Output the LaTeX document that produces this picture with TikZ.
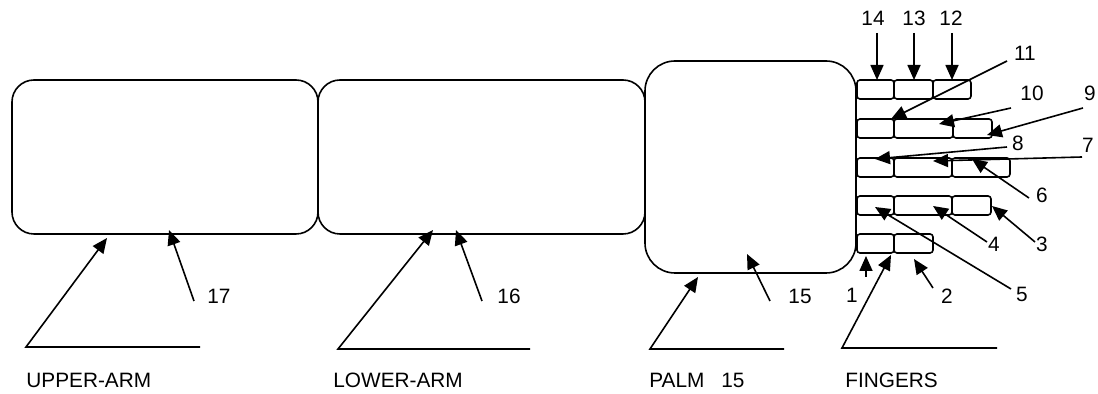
\documentclass[tikz,border=0pt]{standalone}
\usepackage{fontspec}
\setmainfont{Liberation Sans}
\usetikzlibrary{arrows.meta}
\begin{document}
\begin{tikzpicture}[x=0.5pt,y=-0.5pt,
  seg/.style={draw,line width=0.8pt,inner sep=0,outer sep=0},
  fing/.style={seg,rounded corners=1.5pt,minimum height=9.5pt},
  lab/.style={inner sep=0,font=\fontsize{10.4}{12}\selectfont},
  ptr/.style={line width=0.8pt,-{Triangle[length=7.5pt,width=6.5pt]}},
  lead/.style={line width=0.8pt}]
\useasboundingbox (0,0) rectangle (1098,394);
% arm segments
\node[seg,rounded corners=11pt,minimum width=153pt,minimum height=77pt] (upper) at (165,157) {};
\node[seg,rounded corners=11pt,minimum width=163.5pt,minimum height=77pt] (lower) at (481.5,157) {};
\node[seg,rounded corners=15pt,minimum width=105.5pt,minimum height=106pt] (palm) at (750.5,167) {};
% fingers
\node[fing,minimum width=18.5pt] (f11) at (875.5,89.5) {};
\node[fing,minimum width=19.5pt] (f12) at (913.5,89.5) {};
\node[fing,minimum width=19pt] (f13) at (952,89.5) {};
\node[fing,minimum width=18.5pt] (f21) at (875.5,128.5) {};
\node[fing,minimum width=29.5pt] (f22) at (923.5,128.5) {};
\node[fing,minimum width=19.5pt] (f23) at (972.5,128.5) {};
\node[fing,minimum width=18.5pt] (f31) at (875.5,167.5) {};
\node[fing,minimum width=29pt] (f32) at (923,167.5) {};
\node[fing,minimum width=29pt] (f33) at (981,167.5) {};
\node[fing,minimum width=18.5pt] (f41) at (875.5,205.5) {};
\node[fing,minimum width=29pt] (f42) at (923,205.5) {};
\node[fing,minimum width=19.5pt] (f43) at (971.5,205.5) {};
\node[fing,minimum width=18.5pt] (f51) at (875.5,243.5) {};
\node[fing,minimum width=19.5pt] (f52) at (913.5,243.5) {};
% number labels
\node[lab] (n17) at (219,296) {17};
\node[lab] (n16) at (509,296) {16};
\node[lab] (n15) at (800,296) {15};
\node[lab] (n1) at (852,295) {1};
\node[lab] (n2) at (947,296) {2};
\node[lab] (n3) at (1042,244) {3};
\node[lab] (n4) at (994,244) {4};
\node[lab] (n5) at (1022,294) {5};
\node[lab] (n6) at (1042,195) {6};
\node[lab] (n7) at (1088,145) {7};
\node[lab] (n8) at (1018,143) {8};
\node[lab] (n9) at (1090,93) {9};
\node[lab] (n10) at (1032,93) {10};
\node[lab] (n11) at (1025,53) {11};
\node[lab] (n14) at (873,18) {14};
\node[lab] (n13) at (914,18) {13};
\node[lab] (n12) at (951,18) {12};
% group labels
\node[lab,anchor=west] (tua) at (26,380) {UPPER-ARM};
\node[lab,anchor=west] (tla) at (333,380) {LOWER-ARM};
\node[lab,anchor=west] (tpa) at (649,380) {PALM\hspace{8.4pt}15};
\node[lab,anchor=west] (tfi) at (845,380) {FINGERS};
% arrow tails and tips
\coordinate (s17) at (194,301); \coordinate (t17) at (169,230);
\coordinate (s16) at (482,301); \coordinate (t16) at (456,230);
\coordinate (s15) at (770,301); \coordinate (t15) at (747,254);
\coordinate (s1) at (866,277); \coordinate (t1) at (866,256);
\coordinate (s2) at (933,288); \coordinate (t2) at (914,259);
\coordinate (s3) at (1035,242); \coordinate (t3) at (992,206);
\coordinate (s4) at (987,242); \coordinate (t4) at (933,206);
\coordinate (s5) at (1011,289); \coordinate (t5) at (875,207);
\coordinate (s6) at (1029,198); \coordinate (t6) at (972,159);
\coordinate (s7) at (1082,157); \coordinate (t7) at (933,161);
\coordinate (s8) at (1007,147); \coordinate (t8) at (875,159);
\coordinate (s9) at (1083,108); \coordinate (t9) at (987,135);
\coordinate (s10) at (1011,108); \coordinate (t10) at (939,124);
\coordinate (s11) at (1007,61); \coordinate (t11) at (891,119);
\coordinate (s14) at (877,33); \coordinate (t14) at (877,80);
\coordinate (s13) at (914,33); \coordinate (t13) at (914,80);
\coordinate (s12) at (952,33); \coordinate (t12) at (952,80);
\foreach \i in {17,16,15,1,2,3,4,5,6,7,8,9,10,11,14,13,12}
  \draw[ptr] (s\i) -- (t\i);
% group leaders
\coordinate (ua1) at (200,347); \coordinate (ua2) at (26,347); \coordinate (ua3) at (107,238);
\coordinate (la1) at (530,349); \coordinate (la2) at (338,349); \coordinate (la3) at (433,230);
\coordinate (pa1) at (784,349); \coordinate (pa2) at (650,349); \coordinate (pa3) at (698,277);
\coordinate (fi1) at (997,348); \coordinate (fi2) at (842,348); \coordinate (fi3) at (891,255);
\draw[ptr] (ua1) -- (ua2) -- (ua3);
\draw[ptr] (la1) -- (la2) -- (la3);
\draw[ptr] (pa1) -- (pa2) -- (pa3);
\draw[ptr] (fi1) -- (fi2) -- (fi3);
\end{tikzpicture}
\end{document}
